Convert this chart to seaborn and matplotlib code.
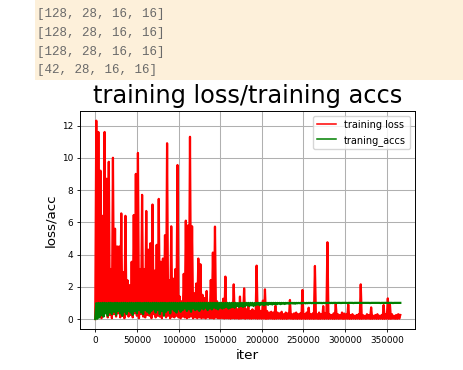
import matplotlib
matplotlib.use("Agg")
import matplotlib.pyplot as plt
import seaborn as sns
import numpy as np
import pandas as pd
from matplotlib.patches import Rectangle

# console output above the chart
shapes = [[128, 28, 16, 16], [128, 28, 16, 16], [128, 28, 16, 16], [42, 28, 16, 16]]

# one bin = 2500 iterations (max / min inside each bin)
bin_size = 2500
loss_peak = [12.3, 11.6, 9.2, 6.4, 11.6, 8.7, 9.75, 3.1, 10.0, 5.6,
             4.5, 4.5, 6.55, 2.9, 6.4, 2.4, 2.1, 3.55, 6.45, 9.0,
             10.3, 3.1, 7.7, 3.1, 6.7, 4.3, 4.7, 7.1, 3.0, 4.6,
             7.45, 3.55, 3.75, 5.2, 10.9, 2.4, 5.75, 2.5, 3.1, 9.55,
             1.4, 1.1, 2.8, 6.1, 5.8, 11.3, 5.75, 1.6, 2.2, 3.75,
             3.4, 1.5, 1.3, 1.74, 1.0, 2.42, 4.12, 5.73, 1.1, 0.9,
             1.0, 1.26, 2.63, 0.8, 0.9, 0.7, 2.15, 0.8, 0.6, 1.39,
             0.7, 1.9, 0.6, 0.9, 0.5, 0.6, 0.5, 3.31, 0.95, 0.5,
             1.14, 1.84, 0.5, 0.4, 0.45, 0.4, 0.81, 0.4, 0.35, 0.45,
             0.3, 0.4, 0.35, 1.18, 0.3, 0.35, 0.4, 0.3, 0.35, 1.8,
             0.3, 0.4, 0.7, 0.3, 0.35, 3.29, 0.3, 0.4, 0.3, 0.8,
             0.35, 4.76, 0.3, 0.25, 0.35, 0.95, 0.3, 0.25, 0.4, 0.34,
             0.3, 0.9, 0.25, 0.3, 0.2, 0.25, 0.3, 2.15, 0.25, 0.2,
             0.3, 0.25, 0.72, 0.2, 0.25, 0.3, 0.2, 0.25, 0.87, 0.3,
             1.28, 0.95, 0.3, 0.2, 0.25, 0.3, 0.25]
loss_floor = [0.0, 0.1, 0.3, 0.05, 0.2, 0.4, 0.1, 0.25, 0.05, 0.3,
              0.15, 0.35, 0.1, 0.2, 0.05, 0.3, 0.15, 0.25, 0.1, 0.35,
              0.2, 0.05, 0.3, 0.15, 0.1, 0.25, 0.2, 0.05, 0.3, 0.1,
              0.2, 0.15, 0.05, 0.25, 0.1, 0.2, 0.05, 0.15, 0.1, 0.2,
              0.1, 0.05, 0.15, 0.1, 0.05, 0.1, 0.15, 0.05, 0.1, 0.05,
              0.1, 0.05, 0.08, 0.04, 0.1, 0.05, 0.06, 0.03, 0.08, 0.05,
              0.04, 0.06, 0.03, 0.05, 0.04, 0.02, 0.05, 0.03, 0.04, 0.02,
              0.03, 0.05, 0.02, 0.04, 0.03, 0.02, 0.04, 0.03, 0.02, 0.03,
              0.02, 0.03, 0.01, 0.02, 0.03, 0.02, 0.01, 0.02, 0.03, 0.02,
              0.01, 0.02, 0.01, 0.03, 0.02, 0.01, 0.02, 0.01, 0.02, 0.01,
              0.02, 0.01, 0.02, 0.01, 0.02, 0.01, 0.02, 0.01, 0.01, 0.02,
              0.01, 0.02, 0.01, 0.02, 0.01, 0.01, 0.02, 0.01, 0.02, 0.01,
              0.01, 0.02, 0.01, 0.01, 0.02, 0.01, 0.02, 0.01, 0.01, 0.02,
              0.01, 0.02, 0.01, 0.01, 0.02, 0.01, 0.01, 0.02, 0.01, 0.01,
              0.02, 0.01, 0.01, 0.02, 0.01, 0.01, 0.02]
acc_high = [0.98, 1.0, 0.99, 1.0, 1.0, 0.99, 1.0, 1.0, 0.99, 1.0,
            1.0, 0.99, 1.0, 1.0, 1.0, 0.99, 1.0, 1.0, 0.99, 1.0,
            1.0, 1.0, 0.99, 1.0, 1.0, 1.0, 0.99, 1.0, 1.0, 1.0,
            0.99, 1.0, 1.0, 1.0, 0.99, 1.0, 1.0, 1.0, 1.0, 0.99,
            1.0, 1.0, 1.0, 0.99, 1.0, 1.0, 1.0, 1.0, 0.99, 1.0,
            1.0, 1.0, 1.0, 1.0, 0.99, 1.0, 1.0, 1.0, 1.0, 1.0,
            1.0, 0.99, 1.0, 1.0, 1.0, 1.0, 1.0, 1.0, 0.99, 1.0,
            1.0, 1.0, 1.0, 1.0, 1.0, 1.0, 0.99, 1.0, 1.0, 1.0,
            1.0, 1.0, 1.0, 1.0, 1.0, 1.0, 1.0, 1.0, 1.0, 1.0,
            1.0, 1.0, 1.0, 1.0, 1.0, 1.0, 1.0, 1.0, 1.0, 1.0,
            1.0, 1.0, 1.0, 1.0, 1.0, 1.0, 1.0, 1.0, 1.0, 1.0,
            1.0, 1.0, 1.0, 1.0, 1.0, 1.0, 1.0, 1.0, 1.0, 1.0,
            1.0, 1.0, 1.0, 1.0, 1.0, 1.0, 1.0, 1.0, 1.0, 1.0,
            1.0, 1.0, 1.0, 1.0, 1.0, 1.0, 1.0, 1.0, 1.0, 1.0,
            1.0, 1.0, 1.0, 1.0, 1.0, 1.0, 1.0]
acc_low = [0.0, 0.02, 0.1, 0.25, 0.15, 0.35, 0.2, 0.4, 0.3, 0.45,
           0.25, 0.5, 0.35, 0.2, 0.45, 0.3, 0.5, 0.4, 0.25, 0.5,
           0.35, 0.55, 0.4, 0.3, 0.55, 0.45, 0.35, 0.5, 0.6, 0.4,
           0.55, 0.3, 0.5, 0.2, 0.45, 0.55, 0.35, 0.6, 0.5, 0.4,
           0.6, 0.45, 0.55, 0.65, 0.5, 0.6, 0.45, 0.65, 0.55, 0.6,
           0.5, 0.65, 0.6, 0.7, 0.55, 0.65, 0.6, 0.7, 0.65, 0.6,
           0.7, 0.65, 0.7, 0.75, 0.65, 0.7, 0.75, 0.7, 0.8, 0.75,
           0.8, 0.75, 0.8, 0.85, 0.8, 0.85, 0.8, 0.85, 0.9, 0.85,
           0.9, 0.85, 0.9, 0.88, 0.92, 0.9, 0.93, 0.9, 0.95, 0.92,
           0.95, 0.93, 0.96, 0.95, 0.97, 0.96, 0.95, 0.97, 0.98, 0.96,
           0.98, 0.97, 0.98, 0.99, 0.98, 0.99, 0.98, 0.99, 0.99, 0.98,
           0.99, 0.99, 1.0, 0.99, 0.99, 1.0, 0.99, 1.0, 0.99, 1.0,
           1.0, 0.99, 1.0, 1.0, 0.99, 1.0, 1.0, 1.0, 0.99, 1.0,
           1.0, 1.0, 0.99, 1.0, 1.0, 1.0, 1.0, 0.99, 1.0, 1.0,
           1.0, 1.0, 1.0, 0.99, 1.0, 1.0, 1.0]


def zigzag(low, high):
    # min at bin start, max half a bin later -> dense saw like the raw curve
    xs, ys = [], []
    for i, (lo, hi) in enumerate(zip(low, high)):
        xs += [i * bin_size, i * bin_size + bin_size / 2]
        ys += [lo, hi]
    return pd.DataFrame({'iter': xs, 'value': ys})


df_loss = zigzag(loss_floor, loss_peak)
df_acc = zigzag(acc_low, acc_high)

fig = plt.figure(figsize=(4.64, 3.7), dpi=100)

# beige console block
fig.patches.append(Rectangle((35 / 464, 1 - 79.5 / 370), 1, 79.5 / 370,
                             transform=fig.transFigure, facecolor='#fdf0da',
                             edgecolor='none', zorder=0))
for s, yc in zip(shapes, [14, 32.7, 51.7, 70]):
    fig.text(37.5 / 464, 1 - yc / 370, str(s), family='Liberation Mono',
             fontsize=9, color='#6a6a6a', va='center', ha='left')

ax = fig.add_axes([80 / 464, 1 - 329 / 370, 335 / 464, 218 / 370])
ax.grid(True, color='#b0b0b0', linewidth=0.75)

sns.lineplot(data=df_loss, x='iter', y='value', color='red', linewidth=1.6,
             estimator=None, label='training loss', ax=ax)
sns.lineplot(data=df_acc, x='iter', y='value', color='green', linewidth=1.6,
             estimator=None, label='traning_accs', ax=ax)

ax.set_xlim(-18300, 383900)
ax.set_ylim(-0.62, 12.9)
ax.set_xticks(np.arange(0, 350001, 50000))
ax.set_yticks(np.arange(0, 13, 2))
ax.tick_params(labelsize=6.4, length=2.5, width=0.6, pad=2.5)
for sp in ax.spines.values():
    sp.set_linewidth(0.7)

ax.set_title('training loss/training accs', fontsize=17.3)
ax.set_xlabel('iter', fontsize=9.7, labelpad=3)
ax.set_ylabel('loss/acc', fontsize=9.7, labelpad=3)
leg = ax.legend(loc='upper right', fontsize=7)
for line in leg.get_lines():
    line.set_linewidth(1.1)

fig.savefig('out.png', dpi=100)
